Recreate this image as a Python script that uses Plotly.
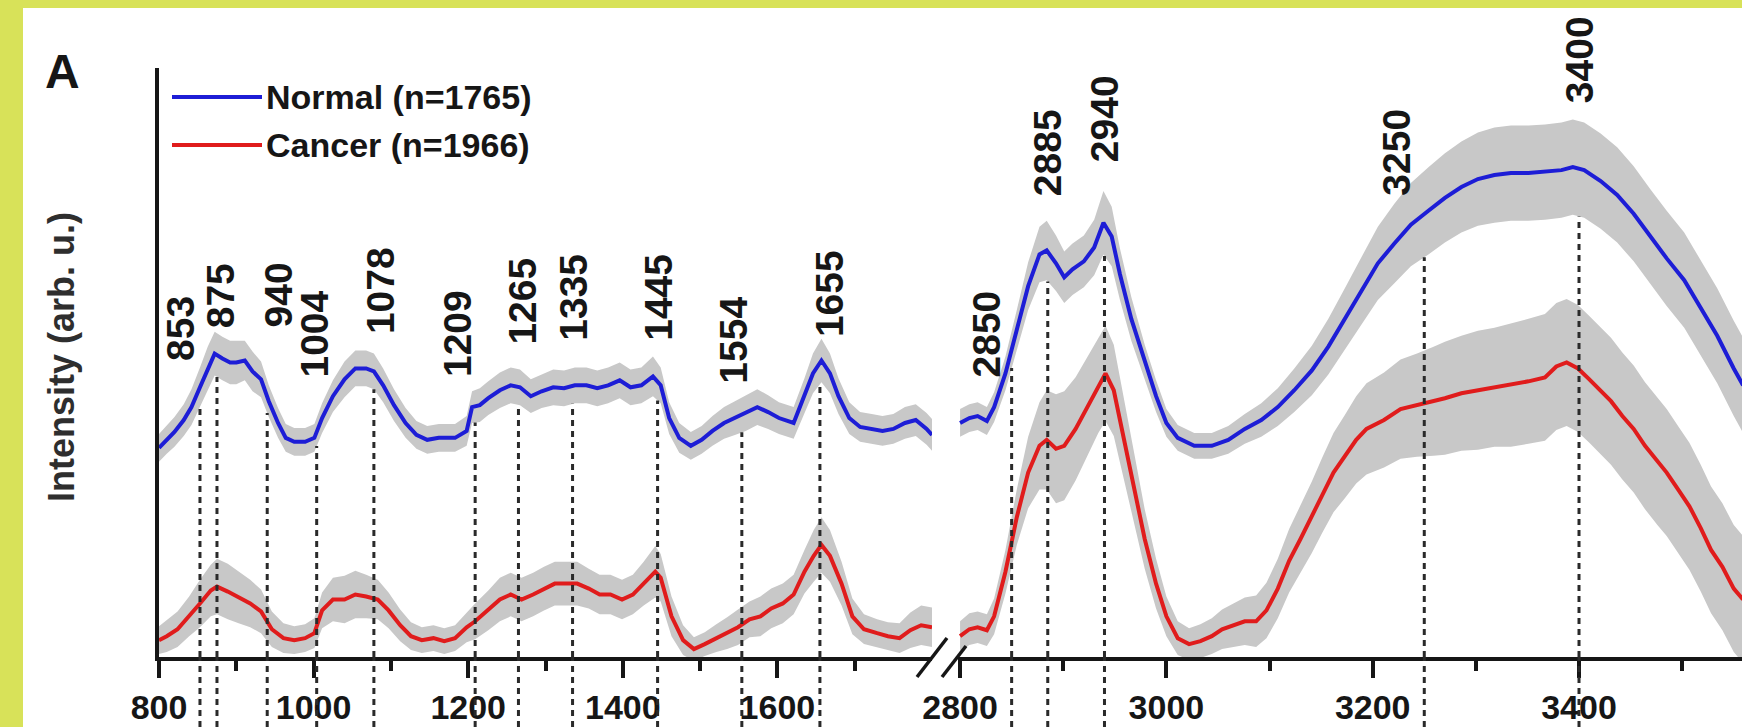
import plotly.graph_objects as go
import numpy as np

# ---------------- data (arbitrary intensity units) ----------------
normal_x_fp = [800, 810, 820, 832, 842, 853, 863, 872, 882, 892,
               900, 911, 921, 932, 942, 954, 964, 975, 989, 1001,
               1011, 1025, 1040, 1054, 1068, 1078, 1090, 1104, 1119, 1133,
               1147, 1162, 1183, 1198, 1205, 1215, 1226, 1241, 1255, 1267,
               1281, 1295, 1310, 1324, 1338, 1353, 1367, 1381, 1396, 1410,
               1424, 1439, 1449, 1460, 1473, 1488, 1502, 1516, 1531, 1545,
               1559, 1574, 1588, 1602, 1621, 1635, 1646, 1657, 1668, 1679,
               1693, 1707, 1722, 1736, 1750, 1765, 1779, 1793, 1800]
normal_y_fp = [211, 219, 227, 239, 252, 272, 291, 306, 301, 297,
               297, 299, 288, 280, 258, 236, 221, 217, 217, 221,
               241, 263, 280, 291, 291, 288, 274, 254, 236, 224,
               219, 221, 221, 228, 252, 254, 261, 269, 274, 272,
               263, 268, 272, 271, 274, 274, 271, 274, 279, 272,
               274, 283, 274, 241, 221, 213, 219, 228, 236, 241,
               246, 252, 247, 241, 236, 263, 286, 299, 286, 263,
               241, 232, 230, 228, 230, 236, 239, 230, 224]
normal_sd_fp = [14, 14, 15, 16, 18, 20, 22, 22, 22, 22,
                22, 20, 20, 18, 16, 15, 14, 14, 14, 14,
                15, 16, 18, 18, 18, 18, 17, 16, 15, 14,
                14, 14, 14, 15, 16, 17, 17, 18, 18, 18,
                17, 17, 18, 18, 18, 18, 18, 18, 18, 18,
                18, 20, 18, 16, 15, 14, 14, 15, 16, 17,
                18, 18, 17, 16, 16, 18, 20, 22, 20, 18,
                16, 15, 15, 15, 15, 16, 16, 16, 16]

cancer_x_fp = [800, 810, 824, 839, 853, 867, 875, 889, 903, 918,
               932, 946, 961, 975, 989, 1001, 1011, 1025, 1040, 1054,
               1068, 1083, 1097, 1112, 1126, 1140, 1155, 1169, 1183, 1198,
               1209, 1226, 1241, 1255, 1269, 1284, 1298, 1312, 1327, 1341,
               1356, 1370, 1384, 1399, 1413, 1427, 1442, 1449, 1463, 1478,
               1492, 1506, 1521, 1535, 1549, 1564, 1578, 1592, 1607, 1621,
               1635, 1647, 1657, 1668, 1683, 1697, 1712, 1729, 1743, 1758,
               1772, 1786, 1800]
cancer_y_fp = [17, 21, 28, 41, 54, 67, 71, 66, 60, 54,
               46, 28, 19, 17, 19, 24, 47, 58, 58, 63,
               61, 58, 47, 32, 21, 17, 19, 16, 19, 30,
               36, 47, 58, 63, 58, 63, 69, 74, 74, 74,
               69, 63, 63, 58, 63, 74, 86, 80, 41, 17,
               8, 13, 19, 24, 30, 38, 41, 49, 54, 63,
               86, 102, 113, 102, 74, 41, 28, 24, 21, 19,
               27, 32, 30]
cancer_sd_fp = [14, 16, 18, 20, 24, 26, 28, 28, 26, 24,
                22, 18, 15, 14, 14, 15, 18, 22, 24, 24,
                22, 20, 18, 16, 14, 13, 13, 13, 13, 15,
                18, 20, 22, 22, 22, 22, 22, 22, 22, 22,
                20, 20, 20, 20, 20, 22, 26, 24, 20, 15,
                12, 12, 14, 16, 18, 18, 20, 20, 20, 20,
                22, 26, 28, 26, 22, 18, 15, 14, 14, 15,
                18, 20, 20]

normal_x_hw = [2800, 2809, 2817, 2826, 2833, 2844, 2855, 2866, 2877, 2884,
               2893, 2901, 2909, 2920, 2930, 2939, 2947, 2955, 2966, 2979,
               2990, 3000, 3011, 3027, 3044, 3060, 3076, 3092, 3108, 3124,
               3141, 3157, 3173, 3189, 3205, 3221, 3237, 3254, 3270, 3286,
               3302, 3318, 3334, 3351, 3367, 3383, 3394, 3405, 3421, 3437,
               3453, 3469, 3485, 3502, 3518, 3534, 3550, 3559]
normal_y_hw = [236, 241, 243, 238, 252, 286, 330, 374, 406, 410,
               397, 383, 391, 399, 413, 438, 424, 386, 341, 297,
               263, 236, 221, 213, 213, 219, 230, 239, 252, 269,
               289, 313, 341, 369, 397, 417, 436, 450, 463, 474,
               482, 486, 488, 488, 489, 491, 494, 491, 480, 466,
               447, 424, 402, 380, 352, 324, 291, 274]
normal_sd_hw = [14, 14, 14, 14, 15, 17, 20, 24, 28, 30,
                28, 26, 26, 26, 28, 32, 30, 26, 22, 18,
                16, 14, 13, 13, 13, 14, 15, 17, 19, 22,
                25, 28, 31, 34, 37, 40, 42, 44, 45, 46,
                47, 48, 48, 48, 48, 48, 48, 48, 48, 48,
                48, 48, 48, 48, 48, 48, 48, 48]

cancer_x_hw = [2800, 2809, 2817, 2826, 2833, 2844, 2855, 2866, 2877, 2884,
               2893, 2901, 2912, 2923, 2934, 2941, 2949, 2957, 2968, 2979,
               2990, 3000, 3011, 3022, 3033, 3044, 3054, 3065, 3076, 3087,
               3097, 3108, 3119, 3130, 3141, 3151, 3162, 3173, 3184, 3194,
               3211, 3227, 3243, 3259, 3270, 3286, 3302, 3318, 3334, 3351,
               3367, 3378, 3388, 3399, 3410, 3421, 3431, 3442, 3453, 3464,
               3476, 3485, 3496, 3507, 3518, 3528, 3539, 3550, 3559]
cancer_y_hw = [21, 28, 30, 27, 41, 86, 141, 186, 213, 219,
               210, 213, 230, 252, 274, 286, 269, 230, 174, 119,
               74, 41, 19, 13, 16, 21, 28, 32, 36, 36,
               47, 69, 97, 119, 141, 163, 186, 202, 219, 230,
               239, 250, 254, 258, 261, 266, 269, 272, 274, 278,
               282, 293, 297, 291, 280, 269, 258, 243, 230, 213,
               197, 186, 169, 152, 130, 108, 91, 69, 58]
cancer_sd_hw = [15, 16, 16, 16, 18, 22, 28, 36, 44, 50,
                55, 55, 52, 50, 48, 48, 46, 42, 36, 30,
                25, 20, 17, 16, 17, 18, 20, 22, 24, 26,
                28, 30, 32, 34, 36, 38, 40, 42, 44, 46,
                48, 50, 52, 55, 57, 58, 60, 60, 62, 63,
                64, 64, 64, 64, 64, 64, 64, 64, 64, 64,
                64, 64, 64, 64, 64, 64, 64, 64, 64]

peaks_fp = [853, 875, 940, 1004, 1078, 1209, 1265, 1335, 1445, 1554, 1655]
peaks_hw = [2850, 2885, 2940, 3250, 3400]
peak_labels_fp = ["853", "875", "940", "1004", "1078", "1209", "1265", "1335", "1445", "1554", "1655"]
peak_labels_hw = ["2850", "2885", "2940", "3250", "3400"]

ticks_fp = [800, 1000, 1200, 1400, 1600]
minor_fp = [900, 1100, 1300, 1500, 1700]
ticks_hw = [2800, 3000, 3200, 3400]
minor_hw = [2900, 3100, 3300, 3500]

series_names = ["Normal (n=1765)", "Cancer (n=1966)"]

# ---------------- layout constants (pixels -> paper) ----------------
W, H = 1742, 727
X1_DOM = [159 / W, 932 / W]
X2_DOM = [958 / W, 1.0]
Y_DOM = [1 - 657 / H, 1 - 68 / H]
Y_RANGE = [0, 594]

BLUE = '#1d1dd6'
RED = '#e01c1c'
BAND = '#c8c8c8'
INK = '#161616'
BG = '#d8e259'
FONT = 'Liberation Sans, Arial, sans-serif'

# label placement (bottom of rotated label, px offsets)
label_base_fp = [297, 330, 330, 280, 324, 280, 313, 317, 317, 274, 321]
label_base_hw = [280, 463, 497, 463, 556]
label_shift_fp = [-20, 3, 11, -2, 6, -17, 4, 1, 1, -8, 9]
label_shift_hw = [-25, 0, 0, -28, 0]

fig = go.Figure()


def band(x, y, sd, xa):
    x = list(x)
    up = [a + b for a, b in zip(y, sd)]
    lo = [a - b for a, b in zip(y, sd)]
    fig.add_trace(go.Scatter(x=x + x[::-1], y=up + lo[::-1], mode='lines',
                             fill='toself', fillcolor=BAND, line=dict(width=0),
                             xaxis=xa, yaxis='y', showlegend=False, hoverinfo='skip'))


def line(x, y, color, xa, name):
    fig.add_trace(go.Scatter(x=x, y=y, mode='lines', name=name,
                             line=dict(color=color, width=4),
                             xaxis=xa, yaxis='y', showlegend=False))


band(normal_x_fp, normal_y_fp, normal_sd_fp, 'x')
band(cancer_x_fp, cancer_y_fp, cancer_sd_fp, 'x')
band(normal_x_hw, normal_y_hw, normal_sd_hw, 'x2')
band(cancer_x_hw, cancer_y_hw, cancer_sd_hw, 'x2')
line(normal_x_fp, normal_y_fp, BLUE, 'x', series_names[0])
line(cancer_x_fp, cancer_y_fp, RED, 'x', series_names[1])
line(normal_x_hw, normal_y_hw, BLUE, 'x2', series_names[0])
line(cancer_x_hw, cancer_y_hw, RED, 'x2', series_names[1])

shapes = []
annotations = []

# white panel on coloured frame
shapes.append(dict(type='rect', xref='paper', yref='paper', x0=23 / W, x1=1.0,
                   y0=0, y1=1 - 8 / H, fillcolor='white', line=dict(width=0), layer='below'))

DASH = dict(color='#2a2a2a', width=3, dash='6px,5px')


def peak_lines(peaks, labels, bx, by, bsd, xref, bases, shifts):
    for p, lab, base, sh in zip(peaks, labels, bases, shifts):
        top = float(np.interp(p, bx, by) - np.interp(p, bx, bsd))
        shapes.append(dict(type='line', xref=xref, yref='y', x0=p, x1=p, y0=0, y1=top,
                           line=DASH))
        shapes.append(dict(type='line', xref=xref, yref='paper', x0=p, x1=p, y0=0, y1=Y_DOM[0],
                           line=DASH))
        annotations.append(dict(x=p, y=base, xref=xref, yref='y', text=lab, showarrow=False,
                                textangle=-90, xanchor='center', yanchor='bottom', xshift=sh,
                                font=dict(family=FONT, size=39, color=INK, weight='bold')))


peak_lines(peaks_fp, peak_labels_fp, normal_x_fp, normal_y_fp, normal_sd_fp, 'x',
           label_base_fp, label_shift_fp)
peak_lines(peaks_hw, peak_labels_hw, normal_x_hw, normal_y_hw, normal_sd_hw, 'x2',
           label_base_hw, label_shift_hw)

# axis break marks
for (xa, ya, xb, yb) in [(917, 677, 947, 638), (942, 677, 966, 646)]:
    shapes.append(dict(type='line', xref='paper', yref='paper', x0=xa / W, y0=1 - ya / H,
                       x1=xb / W, y1=1 - yb / H, line=dict(color=INK, width=3.5)))

# legend
for (yy, col, name) in [(97, BLUE, series_names[0]), (145, RED, series_names[1])]:
    shapes.append(dict(type='line', xref='paper', yref='paper', x0=172 / W, x1=262 / W,
                       y0=1 - yy / H, y1=1 - yy / H, line=dict(color=col, width=4)))
    annotations.append(dict(x=264 / W, y=1 - yy / H, xref='paper', yref='paper', text=name,
                            showarrow=False, xanchor='left', yanchor='middle',
                            font=dict(family=FONT, size=34, color=INK, weight='bold')))

annotations.append(dict(x=62 / W, y=1 - 72 / H, xref='paper', yref='paper', text='A',
                        showarrow=False, xanchor='center', yanchor='middle',
                        font=dict(family=FONT, size=48, color=INK, weight='bold')))
annotations.append(dict(x=61 / W, y=1 - 357 / H, xref='paper', yref='paper',
                        text='Intensity (arb. u.)', showarrow=False, textangle=-90,
                        xanchor='center', yanchor='middle',
                        font=dict(family=FONT, size=36, color='#2e2e2e', weight='bold')))

axis_common = dict(showline=True, linecolor=INK, linewidth=4, ticks='outside', ticklen=17,
                   tickwidth=3.5, tickcolor=INK, showgrid=False, zeroline=False,
                   tickmode='array', anchor='y', automargin=False,
                   tickfont=dict(family=FONT, size=34, color=INK, weight='bold'))

fig.update_layout(
    width=W, height=H, autosize=False,
    margin=dict(l=0, r=0, t=0, b=0, pad=0, autoexpand=False),
    paper_bgcolor=BG, plot_bgcolor='rgba(0,0,0,0)',
    showlegend=False,
    xaxis=dict(domain=X1_DOM, range=[800, 1800], tickvals=ticks_fp,
               minor=dict(tickvals=minor_fp, ticks='outside', ticklen=10, tickwidth=3.5,
                          tickcolor=INK, showgrid=False),
               **axis_common),
    xaxis2=dict(domain=X2_DOM, range=[2798, 3558], tickvals=ticks_hw,
                minor=dict(tickvals=minor_hw, ticks='outside', ticklen=10, tickwidth=3.5,
                           tickcolor=INK, showgrid=False),
                **axis_common),
    yaxis=dict(domain=Y_DOM, range=Y_RANGE, showline=True, linecolor=INK, linewidth=4,
               showticklabels=False, ticks='', showgrid=False, zeroline=False, anchor='x',
               automargin=False),
    shapes=shapes,
    annotations=annotations,
)

fig.write_html("out.html")
